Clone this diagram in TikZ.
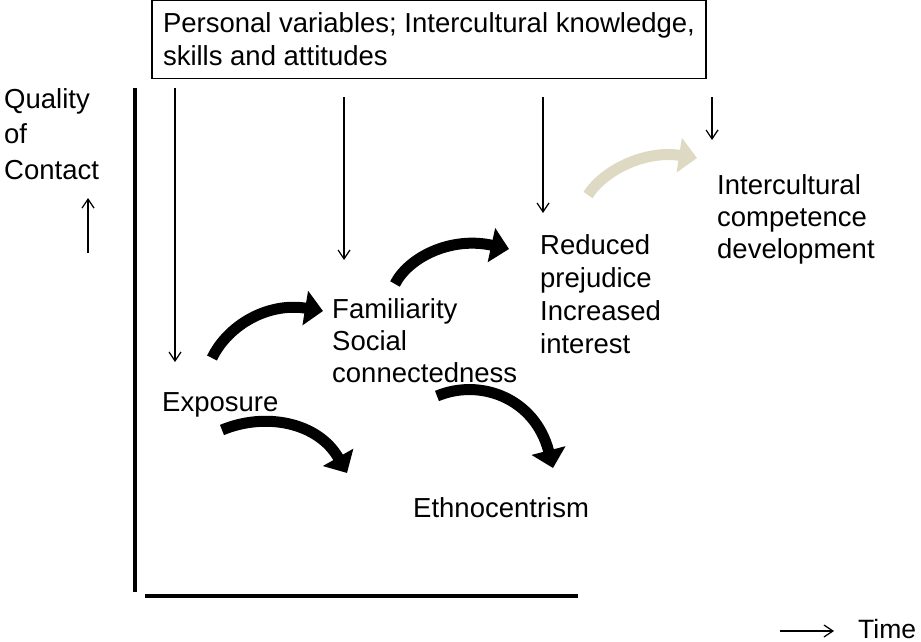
\documentclass[tikz,border=0pt]{standalone}
\usepackage{fontspec}
\setmainfont{Liberation Sans}
\usetikzlibrary{arrows.meta}
\definecolor{sand}{HTML}{DDD9C3}
% stacked lines; the block's baseline is that of its first line
\newcommand\textlines[2][32pt]{\vtop{\baselineskip=#1\relax\lineskiplimit=-50pt\relax #2}}
\begin{document}
\begin{tikzpicture}[x=1pt,y=-1pt,
  lbl/.style={font=\fontsize{27.5}{32}\selectfont, inner sep=0pt, anchor=base west},
  thinarrow/.style={line width=1.2pt, -{Straight Barb[length=9pt,width=12pt]}},
  bigarrow/.style={line width=11pt, -{Triangle[length=18pt,width=34pt]}},
  axisline/.style={line width=4.5pt}]
\useasboundingbox (0,0) rectangle (921,642);

% influencing factors
\node[draw, line width=1.2pt, anchor=text, inner xsep=11pt, inner ysep=12.5pt,
      font=\fontsize{27.5}{32}\selectfont] (factors) at (163,33)
  {\textlines[33pt]{\hbox{Personal variables; Intercultural knowledge,}\hbox{skills and attitudes}}};

% stages
\node[lbl] (quality) at (4,108) {\textlines[35.5pt]{\hbox{Quality}\hbox{of}\hbox{Contact}}};
\node[lbl] (exposure) at (162,411) {Exposure};
\node[lbl] (familiar) at (332,318) {\textlines{\hbox{Familiarity}\hbox{Social}\hbox{connectedness}}};
\node[lbl] (reduced) at (540,254) {\textlines[33pt]{\hbox{Reduced}\hbox{prejudice}\hbox{Increased}\hbox{interest}}};
\node[lbl] (icd) at (717,194) {\textlines{\hbox{Intercultural}\hbox{competence}\hbox{development}}};
\node[lbl] (ethno) at (413,517) {Ethnocentrism};
\node[lbl, font=\fontsize{26.5}{32}\selectfont] (time) at (858,638) {Time};

% axes
\coordinate (ytop) at (135,88);
\coordinate (ybot) at (135,592);
\coordinate (xleft) at (145,596);
\coordinate (xright) at (578,596);
\draw[axisline] (ytop) -- (ybot);
\draw[axisline] (xleft) -- (xright);

% axis direction arrows
\coordinate (qa) at (88,253);
\coordinate (qb) at (88,198);
\draw[thinarrow] (qa) -- (qb);
\coordinate (ta) at (780,631);
\coordinate (tb) at (834,631);
\draw[thinarrow] (ta) -- (tb);

% influence arrows from the factors box
\coordinate (d1a) at (175,88);  \coordinate (d1b) at (175,362);
\coordinate (d2a) at (344,97);  \coordinate (d2b) at (344,260);
\coordinate (d3a) at (543,97);  \coordinate (d3b) at (543,213);
\coordinate (d4a) at (712,97);  \coordinate (d4b) at (712,140);
\draw[thinarrow] (d1a) -- (d1b);
\draw[thinarrow] (d2a) -- (d2b);
\draw[thinarrow] (d3a) -- (d3b);
\draw[thinarrow] (d4a) -- (d4b);

% progression arrows
\coordinate (p1a) at (212,358); \coordinate (p1b) at (323,311);
\coordinate (p2a) at (222,430); \coordinate (p2b) at (347,473);
\coordinate (p3a) at (395,284); \coordinate (p3b) at (509,249);
\coordinate (p4a) at (437,396); \coordinate (p4b) at (553,468);
\coordinate (p5a) at (588,195); \coordinate (p5b) at (697,158);
\draw[bigarrow] (p1a) .. controls (228,325) and (268,302) .. (p1b);
\draw[bigarrow] (p2a) .. controls (265,412) and (318,422) .. (p2b);
\draw[bigarrow] (p3a) .. controls (408,258) and (450,236) .. (p3b);
\draw[bigarrow] (p4a) .. controls (480,378) and (535,398) .. (p4b);
\draw[bigarrow, draw=sand, color=sand] (p5a) .. controls (604,170) and (645,150) .. (p5b);
\end{tikzpicture}
\end{document}
